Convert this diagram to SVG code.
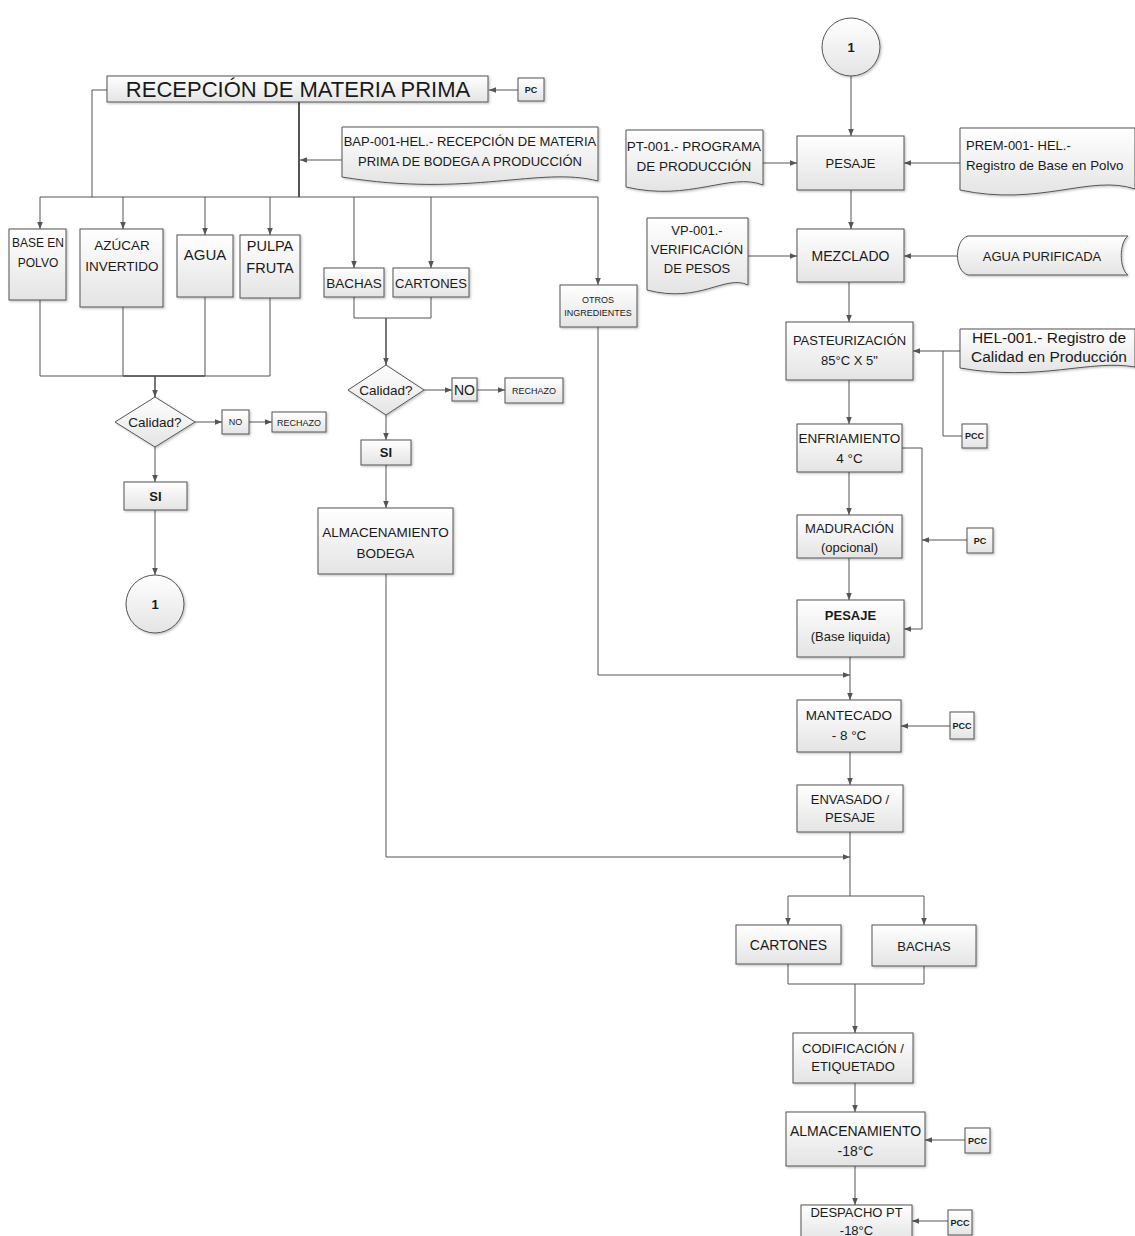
<svg xmlns="http://www.w3.org/2000/svg" width="1135" height="1236" viewBox="0 0 1135 1236">
<style>
.b{fill:url(#g);stroke:#555;stroke-width:1;filter:url(#sh)}
.t{font-family:"Liberation Sans",Arial,sans-serif;font-size:13px;fill:#1a1a1a;text-anchor:middle}
.s{font-size:9px}
.bd{font-weight:bold}
.c{fill:none;stroke:#555;stroke-width:1}
.a{marker-end:url(#ah)}
</style>
<defs>
<linearGradient id="g" x1="0" y1="0" x2="0" y2="1"><stop offset="0" stop-color="#ffffff"/><stop offset="1" stop-color="#e4e4e4"/></linearGradient>
<filter id="sh" x="-10%" y="-10%" width="130%" height="130%"><feDropShadow dx="1.2" dy="1.2" stdDeviation="0.8" flood-color="#000" flood-opacity="0.25"/></filter>
<marker id="ah" viewBox="0 0 10 10" refX="10" refY="5" markerWidth="7" markerHeight="7" orient="auto" markerUnits="userSpaceOnUse"><path d="M0,1 L10,5 L0,9 z" fill="#555"/></marker>
</defs>
<rect width="1135" height="1236" fill="#fff"/>
<g id="connectors">
<path class="c a" d="M518,90 H489"/>
<path class="c" d="M107,90 H92 V197"/>
<path class="c" style="stroke-width:2" d="M299,102 V197"/>
<path class="c a" d="M342,160 H300"/>
<path class="c" d="M40,197 H598"/>
<path class="c a" d="M40,197 V229"/>
<path class="c a" d="M123,197 V229"/>
<path class="c a" d="M205,197 V235"/>
<path class="c a" d="M270,197 V235"/>
<path class="c a" d="M354,197 V268"/>
<path class="c a" d="M431,197 V268"/>
<path class="c a" d="M598,197 V285"/>
<path class="c" d="M40,300 V376 H270 V298"/>
<path class="c" d="M123,307 V376"/>
<path class="c" d="M205,297 V376"/>
<path class="c" style="stroke-width:1.6" d="M123,376 H205"/>
<path class="c a" style="stroke-width:1.6" d="M155,376 V397"/>
<path class="c a" d="M195,422 H222"/>
<path class="c a" d="M249,422 H272"/>
<path class="c a" d="M155,447 V482"/>
<path class="c a" d="M155,510 V575"/>
<path class="c" d="M354,297 V318 H431 V297"/>
<path class="c a" style="stroke-width:1.6" d="M386,318 V365"/>
<path class="c a" d="M424,390 H452"/>
<path class="c a" d="M477,390 H505"/>
<path class="c a" d="M386,415 V440"/>
<path class="c a" d="M386,465 V508"/>
<path class="c a" d="M386,574 V857 H850"/>
<path class="c a" d="M598,327 V675 H850"/>
<path class="c a" d="M851,76 V136"/>
<path class="c a" d="M763,163 H797"/>
<path class="c a" d="M960,163 H904"/>
<path class="c a" d="M851,190 V229"/>
<path class="c a" d="M748,256 H797"/>
<path class="c a" d="M957,256 H904"/>
<path class="c a" d="M849,282 V322"/>
<path class="c a" d="M960,351 H913"/>
<path class="c" d="M962,436 H943 V351"/>
<path class="c a" d="M849,380 V424"/>
<path class="c a" d="M849,472 V515"/>
<path class="c a" d="M902,448 H922 V629 H904"/>
<path class="c a" d="M967,540 H922"/>
<path class="c a" d="M849,558 V600"/>
<path class="c a" d="M850,657 V700"/>
<path class="c a" d="M950,726 H901"/>
<path class="c a" d="M850,752 V785"/>
<path class="c" d="M850,832 V896"/>
<path class="c" d="M788,896 H924"/>
<path class="c a" d="M788,896 V925"/>
<path class="c a" d="M924,896 V925"/>
<path class="c" d="M788,964 V984 H924 V966"/>
<path class="c a" d="M855,984 V1033"/>
<path class="c a" d="M855,1083 V1112"/>
<path class="c a" d="M965,1140 H925"/>
<path class="c a" d="M855,1166 V1205"/>
<path class="c a" d="M948,1221 H912"/>
</g>
<g id="recepcion"><rect class="b" x="107" y="76" width="381" height="26"/><text class="t" x="298" y="97" style="font-size:22px">RECEPCIÓN DE MATERIA PRIMA</text></g>
<g id="pc-top"><rect class="b" x="518" y="78" width="26" height="23"/><text class="t s bd" x="531" y="93">PC</text></g>
<g id="bap"><path class="b" d="M342,127 H598 V181 C540,166 470,198 342,177 Z"/><text class="t" x="470" y="146">BAP-001-HEL.- RECEPCIÓN DE MATERIA</text><text class="t" x="470" y="166">PRIMA  DE BODEGA A PRODUCCIÓN</text></g>
<g id="base-polvo"><rect class="b" x="9" y="229" width="57" height="71"/><text class="t" style="font-size:12px" x="38" y="247">BASE EN</text><text class="t" style="font-size:12px" x="38" y="267">POLVO</text></g>
<g id="azucar"><rect class="b" x="80" y="229" width="83" height="78"/><text class="t" style="font-size:13.5px" x="122" y="250">AZÚCAR</text><text class="t" style="font-size:13.5px" x="122" y="271">INVERTIDO</text></g>
<g id="agua"><rect class="b" x="177" y="235" width="56" height="62"/><text class="t" style="font-size:15px" x="205" y="260">AGUA</text></g>
<g id="pulpa"><rect class="b" x="240" y="235" width="60" height="63"/><text class="t" style="font-size:14.5px" x="270" y="251">PULPA</text><text class="t" style="font-size:14.5px" x="270" y="273">FRUTA</text></g>
<g id="bachas1"><rect class="b" x="324" y="268" width="60" height="29"/><text class="t" style="font-size:13.5px" x="354" y="287.5">BACHAS</text></g>
<g id="cartones1"><rect class="b" x="393" y="268" width="76" height="29"/><text class="t" x="431" y="287.5">CARTONES</text></g>
<g id="otros"><rect class="b" x="560" y="285" width="77" height="42"/><text class="t s" x="598" y="303">OTROS</text><text class="t s" x="598" y="316">INGREDIENTES</text></g>
<g id="calidad1"><path class="b" d="M155,397 L195,422 L155,447 L115,422 Z"/><text class="t" style="font-size:13.5px" x="155" y="427">Calidad?</text></g>
<g id="no1"><rect class="b" x="222" y="410" width="27" height="24"/><text class="t s" x="235.5" y="425">NO</text></g>
<g id="rechazo1"><rect class="b" x="272" y="412" width="54" height="20"/><text class="t s" x="299" y="425.5">RECHAZO</text></g>
<g id="si1"><rect class="b" x="124" y="482" width="63" height="28"/><text class="t bd" x="155.5" y="501">SI</text></g>
<g id="circle1-left"><circle class="b" cx="155" cy="604" r="29"/><text class="t bd" x="155" y="608.5">1</text></g>
<g id="calidad2"><path class="b" d="M386,365 L424,390 L386,415 L348,390 Z"/><text class="t" style="font-size:13.5px" x="386" y="395">Calidad?</text></g>
<g id="no2"><rect class="b" x="452" y="378" width="25" height="23"/><text class="t" style="font-size:14px" x="464.5" y="394.5">NO</text></g>
<g id="rechazo2"><rect class="b" x="505" y="378" width="58" height="25"/><text class="t s" x="534" y="394">RECHAZO</text></g>
<g id="si2"><rect class="b" x="361" y="440" width="50" height="25"/><text class="t bd" x="386" y="457">SI</text></g>
<g id="alm-bodega"><rect class="b" x="318" y="508" width="135" height="66"/><text class="t" style="font-size:13.5px" x="385.5" y="537">ALMACENAMIENTO</text><text class="t" style="font-size:13.5px" x="385.5" y="558">BODEGA</text></g>
<g id="circle1-right"><circle class="b" cx="851" cy="47" r="29"/><text class="t bd" x="851" y="51.5">1</text></g>
<g id="pesaje"><rect class="b" x="797" y="136" width="107" height="54"/><text class="t" x="850.5" y="167.5">PESAJE</text></g>
<g id="pt001"><path class="b" d="M626,130 H763 V185 C730,172 690,202 626,187 Z"/><text class="t" style="font-size:13.5px" x="694" y="151">PT-001.- PROGRAMA</text><text class="t" style="font-size:13.5px" x="694" y="171">DE PRODUCCIÓN</text></g>
<g id="prem001"><path class="b" d="M960,128 H1135 V189 C1090,174 1040,207 960,190 Z"/><text class="t" style="text-anchor:start" x="966" y="150">PREM-001- HEL.-</text><text class="t" style="text-anchor:start;font-size:13.3px" x="966" y="170">Registro de Base en Polvo</text></g>
<g id="mezclado"><rect class="b" x="797" y="229" width="107" height="53"/><text class="t" style="font-size:14px" x="850.5" y="261">MEZCLADO</text></g>
<g id="vp001"><path class="b" d="M647,218 H748 V285 C725,274 700,304 647,290 Z"/><text class="t" x="697" y="235">VP-001.-</text><text class="t" x="697" y="254">VERIFICACIÓN</text><text class="t" x="697" y="273">DE PESOS</text></g>
<g id="agua-purificada"><path class="b" d="M968,236 H1128 C1119,242 1119,269 1128,275 H968 C954,271 954,240 968,236 Z"/><text class="t" x="1042" y="260.5">AGUA PURIFICADA</text></g>
<g id="pasteurizacion"><rect class="b" x="786" y="322" width="127" height="58"/><text class="t" x="849.5" y="345">PASTEURIZACIÓN</text><text class="t" x="849.5" y="364.5">85°C X 5"</text></g>
<g id="hel001"><path class="b" d="M960,329 H1135 V367 C1090,359 1040,382 960,368 Z"/><text class="t" style="font-size:15.5px" x="1049" y="343">HEL-001.- Registro de</text><text class="t" style="font-size:15.5px" x="1049" y="362">Calidad en Producción</text></g>
<g id="pcc-past"><rect class="b" x="962" y="424" width="25" height="24"/><text class="t s bd" x="974.5" y="439">PCC</text></g>
<g id="enfriamiento"><rect class="b" x="797" y="424" width="105" height="48"/><text class="t" style="font-size:13.5px" x="849.5" y="443">ENFRIAMIENTO</text><text class="t" style="font-size:13.5px" x="849.5" y="463">4 °C</text></g>
<g id="pc-mad"><rect class="b" x="967" y="528" width="26" height="25"/><text class="t s bd" x="980" y="544">PC</text></g>
<g id="maduracion"><rect class="b" x="797" y="515" width="105" height="43"/><text class="t" x="849.5" y="533">MADURACIÓN</text><text class="t" x="849.5" y="552">(opcional)</text></g>
<g id="pesaje-liq"><rect class="b" x="797" y="600" width="107" height="57"/><text class="t bd" x="850.5" y="620">PESAJE</text><text class="t" x="850.5" y="641">(Base liquida)</text></g>
<g id="mantecado"><rect class="b" x="797" y="700" width="104" height="52"/><text class="t" style="font-size:13.5px" x="849" y="720">MANTECADO</text><text class="t" style="font-size:13.5px" x="849" y="740">- 8 °C</text></g>
<g id="pcc-mant"><rect class="b" x="950" y="712" width="24" height="27"/><text class="t s bd" x="962" y="729">PCC</text></g>
<g id="envasado"><rect class="b" x="797" y="785" width="106" height="47"/><text class="t" x="850" y="804">ENVASADO /</text><text class="t" x="850" y="822">PESAJE</text></g>
<g id="cartones2"><rect class="b" x="736" y="925" width="105" height="39"/><text class="t" style="font-size:14px" x="788.5" y="949.5">CARTONES</text></g>
<g id="bachas2"><rect class="b" x="872" y="925" width="104" height="41"/><text class="t" x="924" y="950.5">BACHAS</text></g>
<g id="codificacion"><rect class="b" x="793" y="1033" width="120" height="50"/><text class="t" x="853" y="1053">CODIFICACIÓN /</text><text class="t" x="853" y="1071">ETIQUETADO</text></g>
<g id="almacenamiento"><rect class="b" x="786" y="1112" width="139" height="54"/><text class="t" style="font-size:14px" x="855.5" y="1136">ALMACENAMIENTO</text><text class="t" style="font-size:14px" x="855.5" y="1156">-18°C</text></g>
<g id="pcc-alm"><rect class="b" x="965" y="1128" width="25" height="25"/><text class="t s bd" x="977.5" y="1144">PCC</text></g>
<g id="despacho"><rect class="b" x="801" y="1205" width="111" height="36"/><text class="t" x="856.5" y="1217">DESPACHO PT</text><text class="t" x="856.5" y="1235">-18°C</text></g>
<g id="pcc-desp"><rect class="b" x="948" y="1210" width="24" height="25"/><text class="t s bd" x="960" y="1226">PCC</text></g>
</svg>
